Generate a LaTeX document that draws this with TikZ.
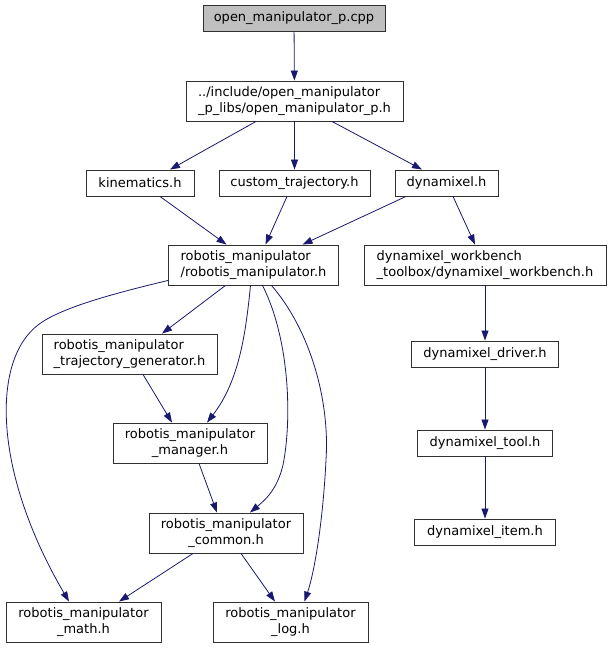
\documentclass[tikz,border=0pt]{standalone}
\usepackage{fontspec}
\setmainfont{DejaVu Sans}
\usetikzlibrary{arrows.meta}
\definecolor{edgec}{HTML}{191970}
\definecolor{rootfill}{HTML}{BFBFBF}
\definecolor{borderc}{HTML}{303030}
\begin{document}
\begin{tikzpicture}[x=1pt,y=-1pt,
  box/.style={draw=borderc, line width=0.9pt, fill=white, inner sep=0pt,
    font=\fontsize{13}{15.5}\selectfont, minimum height=26pt},
  box2/.style={box, minimum height=40pt},
  edge/.style={draw=edgec, line width=0.8pt, -{Triangle[length=10pt,width=7pt]}}]
\useasboundingbox (0,0) rectangle (608,648);
% nodes
\node[box, fill=rootfill, minimum width=182pt] (cpp) at (294,18.5) {open\_manipulator\_p.cpp};
\node[box2, minimum width=217pt, align=left] (inc) at (294.5,101) {../include/open\_manipulator\\\_p\_libs/open\_manipulator\_p.h};
\node[box, minimum width=108pt] (kin) at (140,183) {kinematics.h};
\node[box, minimum width=151pt] (cus) at (294.5,183) {custom\_trajectory.h};
\node[box, minimum width=103pt] (dyn) at (446.5,183) {dynamixel.h};
\node[box2, minimum width=170pt, align=left] (rob) at (253.5,265) {robotis\_manipulator\\/robotis\_manipulator.h};
\node[box2, minimum width=242pt, align=left] (wb) at (485,265) {dynamixel\_workbench\\\_toolbox/dynamixel\_workbench.h};
\node[box, minimum width=147pt] (drv) at (485,354) {dynamixel\_driver.h};
\node[box, minimum width=135pt] (tool) at (485,443) {dynamixel\_tool.h};
\node[box, minimum width=141pt] (item) at (485,532) {dynamixel\_item.h};
\node[box2, minimum width=175pt, align=left] (traj) at (129.5,354) {robotis\_manipulator\\\_trajectory\_generator.h};
\node[box2, minimum width=154pt, align=center] (mgr) at (190,443) {robotis\_manipulator\\\_manager.h};
\node[box2, minimum width=154pt, align=center] (com) at (226,533) {robotis\_manipulator\\\_common.h};
\node[box2, minimum width=155pt, align=center] (math) at (83.5,622) {robotis\_manipulator\\\_math.h};
\node[box2, minimum width=155pt, align=center] (log) at (290.5,622) {robotis\_manipulator\\\_log.h};
% straight edges
\draw[edge] (cpp) -- (inc);
\draw[edge] ([xshift=-38.5pt]inc.south) -- ([xshift=30pt]kin.north);
\draw[edge] (inc) -- (cus);
\draw[edge] ([xshift=37.5pt]inc.south) -- ([xshift=-24.5pt]dyn.north);
\draw[edge] ([xshift=20pt]kin.south) -- ([xshift=-27pt]rob.north);
\draw[edge] ([xshift=-7.5pt]cus.south) -- ([xshift=12pt]rob.north);
\draw[edge] ([xshift=-40.5pt]dyn.south) -- ([xshift=49pt]rob.north);
\draw[edge] ([xshift=6.5pt]dyn.south) -- ([xshift=-10pt]wb.north);
\draw[edge] (wb) -- (drv);
\draw[edge] (drv) -- (tool);
\draw[edge] (tool) -- (item);
\draw[edge] ([xshift=-28pt]rob.south) -- ([xshift=32.5pt]traj.north);
\draw[edge] ([xshift=13.5pt]traj.south) -- ([xshift=-18pt]mgr.north);
\draw[edge] ([xshift=9pt]mgr.south) -- ([xshift=-9pt]com.north);
\draw[edge] ([xshift=-33pt]com.south) -- ([xshift=35.5pt]math.north);
\draw[edge] ([xshift=15pt]com.south) -- ([xshift=-15.5pt]log.north);
% curved edges
\draw[edge] ([yshift=5pt]rob.south west) .. controls (120,292) and (61,307) .. (38,325)
  .. controls (-8,360) and (-8,470) .. ([xshift=-14.5pt]math.north);
\draw[edge] ([xshift=-3pt]rob.south) .. controls (246,330) and (240,380) .. ([xshift=17pt]mgr.north);
\draw[edge] ([xshift=9pt]rob.south) .. controls (290,340) and (292,420) .. (283,465)
  .. controls (277,490) and (265,500) .. ([xshift=24pt]com.north);
\draw[edge] ([xshift=18pt]rob.south) .. controls (310,330) and (330,400) .. (326,460)
  .. controls (323,520) and (315,570) .. ([xshift=14pt]log.north);
\end{tikzpicture}
\end{document}
